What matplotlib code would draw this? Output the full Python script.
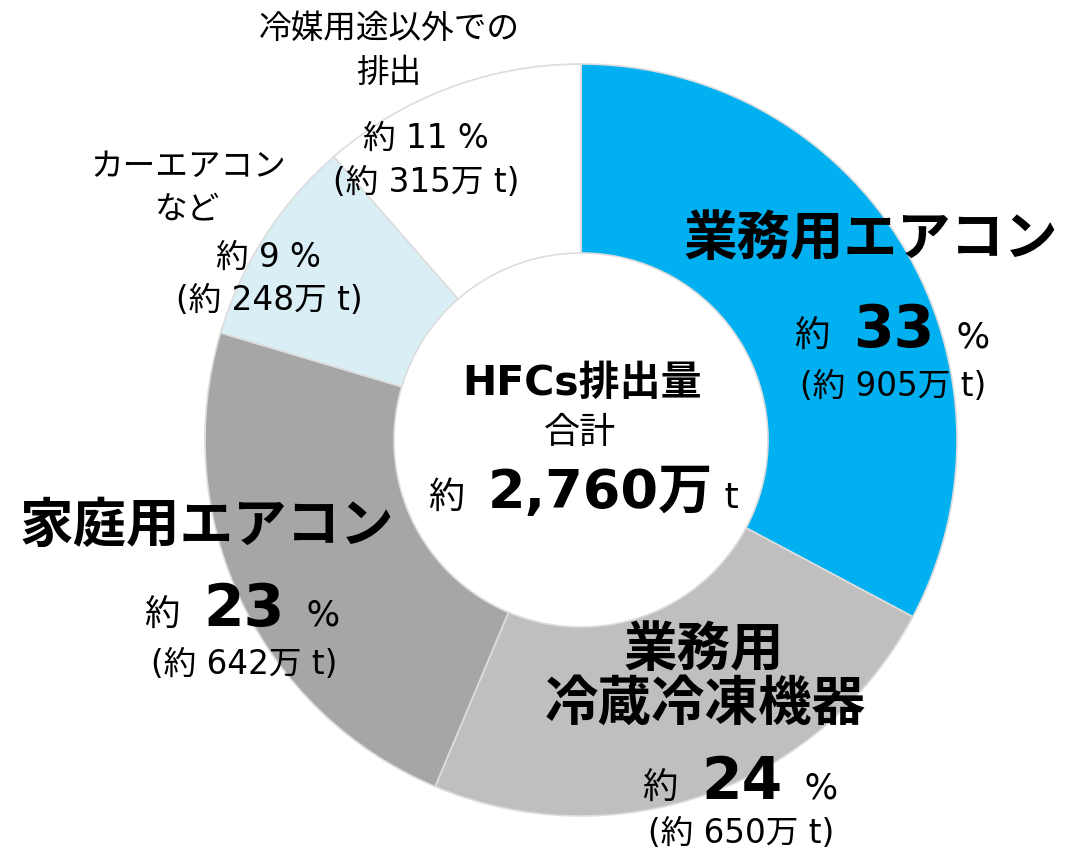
import matplotlib
matplotlib.use("Agg")
import matplotlib.pyplot as plt

# latin glyphs from DejaVu (Verdana-like), Japanese from Noto
plt.rcParams['font.family'] = ['DejaVu Sans', 'Noto Sans CJK JP']

# HFCs emissions by use (10k t)
categories = ['業務用エアコン', '業務用冷蔵冷凍機器', '家庭用エアコン', 'カーエアコンなど', '冷媒用途以外での排出']
amounts = [905, 650, 642, 248, 315]
colors = ['#00B0F0', '#BFBFBF', '#A6A6A6', '#DAEEF6', '#FFFFFF']
total = sum(amounts)
shares = [round(a / total * 100) for a in amounts]

W, H = 1071, 853
fig = plt.figure(figsize=(W / 100, H / 100), dpi=100)
ax = fig.add_axes([0, 0, 1, 1])

cx, cy, r_out, r_in = 581, 441, 376, 187
ax.pie(amounts, colors=colors, startangle=90, counterclock=False,
       radius=r_out, center=(cx, H - cy),
       wedgeprops=dict(width=r_out - r_in, edgecolor='#DDDDDD', linewidth=1.2))
ax.set_xlim(0, W)
ax.set_ylim(0, H)
ax.set_aspect('auto')
ax.axis('off')

renderer = fig.canvas.get_renderer()


def line(x, y, parts):
    # parts: list of (text, size, bold); centred at x, baseline y (pixels from top)
    objs = []
    for s, size, bold in parts:
        t = ax.text(0, H - y, s, fontsize=size, fontweight='bold' if bold else 'normal',
                    ha='left', va='baseline', color='black')
        objs.append(t)
    widths = [t.get_window_extent(renderer).width for t in objs]
    x0 = x - sum(widths) / 2
    for t, w in zip(objs, widths):
        t.set_x(x0)
        x0 += w


def label(x, y, s, size, bold=False):
    ax.text(x, H - y, s, fontsize=size, fontweight='bold' if bold else 'normal',
            ha='center', va='center', color='black')


small = 23.5
big_title = 38.5
big_num = 42
pre = 25.5

# 業務用エアコン
label(871, 240, categories[0], big_title, True)
line(893, 347, [('約  ', pre, False), (str(shares[0]), big_num, True), ('  %', pre, False)])
label(893, 386, f'(約 {amounts[0]}万 t)', small)

# 業務用冷蔵冷凍機器
label(704, 651, '業務用', big_title, True)
label(705, 705, '冷蔵冷凍機器', big_title, True)
line(741, 799, [('約  ', pre, False), (str(shares[1]), big_num, True), ('  %', pre, False)])
label(741, 834, f'(約 {amounts[1]}万 t)', small)

# 家庭用エアコン
label(207, 527, categories[2], big_title, True)
line(243, 626, [('約  ', pre, False), (str(shares[2]), big_num, True), ('  %', pre, False)])
label(244, 665, f'(約 {amounts[2]}万 t)', small)

# カーエアコンなど
label(188, 166, 'カーエアコン', 23.5)
label(188, 209, 'など', 23.5)
label(268, 257, f'約 {shares[3]} %', small)
label(269, 300, f'(約 {amounts[3]}万 t)', small)

# 冷媒用途以外での排出
label(389, 28, '冷媒用途以外での', 23.5)
label(389, 72, '排出', 23.5)
label(426, 138, f'約 {shares[4]} %', small)
label(426, 182, f'(約 {amounts[4]}万 t)', small)

# centre
label(582, 384, 'HFCs排出量', 29.5, True)
label(580, 433, '合計', 26)
line(584, 508, [('約  ', 26, False), (f'{total:,}万', 39, True), (' t', 26, False)])

fig.savefig('out.png', dpi=100)
